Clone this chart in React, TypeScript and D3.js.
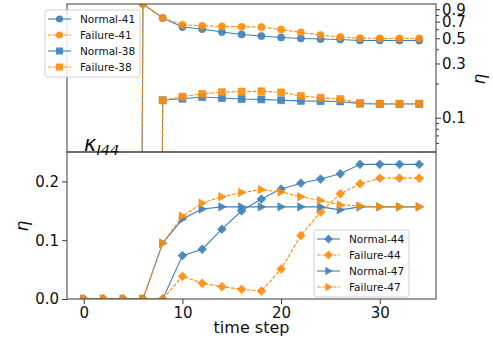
import { useEffect, useRef } from "react";
import * as d3 from "d3";

// time steps shared by both panels
const steps = [0, 2, 4, 6, 8, 10, 12, 14, 16, 18, 20, 22, 24, 26, 28, 30, 32, 34];

// top panel (log scale)
const normal41 = [0, 0, 0, 1.0, 0.753, 0.627, 0.602, 0.567, 0.54, 0.523, 0.508, 0.498, 0.492, 0.488, 0.478, 0.478, 0.478, 0.478];
const failure41 = [0, 0, 0, 1.0, 0.753, 0.657, 0.644, 0.635, 0.631, 0.627, 0.597, 0.562, 0.533, 0.512, 0.501, 0.498, 0.498, 0.498];
const normal38 = [0, 0, 0, 0, 0.1426, 0.147, 0.152, 0.149, 0.146, 0.145, 0.1426, 0.1406, 0.14, 0.139, 0.133, 0.132, 0.132, 0.132];
const failure38 = [0, 0, 0, 0, 0.1426, 0.1535, 0.162, 0.168, 0.17, 0.171, 0.167, 0.1556, 0.15, 0.146, 0.135, 0.133, 0.133, 0.133];

// bottom panel
const normal44 = [0, 0, 0, 0, 0, 0.0738, 0.0846, 0.1187, 0.15, 0.17, 0.187, 0.197, 0.204, 0.213, 0.229, 0.229, 0.229, 0.229];
const failure44 = [0, 0, 0, 0, 0, 0.0386, 0.0267, 0.021, 0.0165, 0.0136, 0.051, 0.108, 0.148, 0.179, 0.196, 0.2055, 0.2055, 0.2055];
const normal47 = [0, 0, 0, 0, 0.095, 0.136, 0.153, 0.1567, 0.1567, 0.1567, 0.1567, 0.1567, 0.1567, 0.1516, 0.1567, 0.1567, 0.1567, 0.1567];
const failure47 = [0, 0, 0, 0, 0.095, 0.141, 0.163, 0.174, 0.181, 0.186, 0.182, 0.174, 0.1675, 0.16, 0.1584, 0.1567, 0.1567, 0.1567];

const xTicks = [0, 10, 20, 30];
const yTicksBottom = [0, 0.1, 0.2];
const yTicksTopLabeled = [0.1, 0.3, 0.5, 0.7, 0.9];
const yTicksTopMinor = [0.06, 0.07, 0.08, 0.09, 0.2, 0.4, 0.6, 0.8];

const BLUE = "#3f7fb8";
const ORANGE = "#ff8c0a";
const FONT = "DejaVu Sans, sans-serif";

type Marker = "circle" | "square" | "diamond" | "tri";

function markerPath(kind: Marker): string {
  const p = d3.path();
  if (kind === "circle") {
    p.arc(0, 0, 3.6, 0, 2 * Math.PI);
  } else if (kind === "square") {
    p.rect(-3.5, -3.5, 7, 7);
  } else if (kind === "diamond") {
    p.moveTo(0, -4.4); p.lineTo(4.4, 0); p.lineTo(0, 4.4); p.lineTo(-4.4, 0); p.closePath();
  } else {
    p.moveTo(4.4, 0); p.lineTo(-3.2, -4.2); p.lineTo(-3.2, 4.2); p.closePath();
  }
  return p.toString();
}

function App() {
  const ref = useRef<SVGSVGElement>(null);

  useEffect(() => {
    const W = 493, H = 343;
    const left = 67, right = 436;
    const topY0 = 4, midY = 152, botY = 299;

    const svg = d3.select(ref.current);
    svg.selectAll("*").remove();
    svg.append("rect").attr("width", W).attr("height", H).attr("fill", "white");

    const x = d3.scaleLinear().domain([-1.7, 35.7]).range([left, right]);
    const yTop = d3.scaleLog().domain([0.05, 1.0]).range([midY, topY0]);
    const yBot = d3.scaleLinear().domain([0, 0.25]).range([botY, midY]);
    // zeros on a log axis fall far below the panel (like matplotlib's clipping)
    const yTopSafe = (v: number) => (v > 0 ? yTop(v) : yTop(1e-30));

    const defs = svg.append("defs");
    defs.append("clipPath").attr("id", "clipTop")
      .append("rect").attr("x", left).attr("y", topY0).attr("width", right - left).attr("height", midY - topY0);
    defs.append("clipPath").attr("id", "clipBot")
      .append("rect").attr("x", left).attr("y", midY).attr("width", right - left).attr("height", botY - midY);

    const drawSeries = (
      g: d3.Selection<SVGGElement, unknown, null, undefined>,
      values: number[],
      yFn: (v: number) => number,
      color: string,
      dashed: boolean,
      marker: Marker
    ) => {
      const ln = d3.line<number>().x((_, i) => x(steps[i])).y((v) => yFn(v));
      g.append("path")
        .attr("d", ln(values))
        .attr("fill", "none")
        .attr("stroke", color)
        .attr("stroke-width", 1.1)
        .attr("stroke-dasharray", dashed ? "3.7,1.6" : null);
      g.selectAll(null)
        .data(values)
        .enter()
        .append("path")
        .attr("d", markerPath(marker))
        .attr("transform", (v, i) => `translate(${x(steps[i])},${yFn(v)})`)
        .attr("fill", color)
        .attr("fill-opacity", 0.9)
        .attr("stroke", color)
        .attr("stroke-opacity", 0.6)
        .attr("stroke-width", 1);
    };

    // top panel
    const gTop = svg.append("g").attr("clip-path", "url(#clipTop)");
    drawSeries(gTop, normal41, yTopSafe, BLUE, false, "circle");
    drawSeries(gTop, failure41, yTopSafe, ORANGE, true, "circle");
    drawSeries(gTop, normal38, yTopSafe, BLUE, false, "square");
    drawSeries(gTop, failure38, yTopSafe, ORANGE, true, "square");

    // bottom panel
    const gBot = svg.append("g").attr("clip-path", "url(#clipBot)");
    drawSeries(gBot, normal44, yBot, BLUE, false, "diamond");
    drawSeries(gBot, failure44, yBot, ORANGE, true, "diamond");
    drawSeries(gBot, normal47, yBot, BLUE, false, "tri");
    drawSeries(gBot, failure47, yBot, ORANGE, true, "tri");

    // spines
    const spine = "#3a3a3a";
    svg.append("rect").attr("x", left).attr("y", topY0).attr("width", right - left).attr("height", botY - topY0)
      .attr("fill", "none").attr("stroke", spine).attr("stroke-width", 1);
    svg.append("line").attr("x1", left).attr("x2", right).attr("y1", midY).attr("y2", midY)
      .attr("stroke", spine).attr("stroke-width", 1.4);

    const styleAxis = (g: d3.Selection<SVGGElement, unknown, null, undefined>, size: number) => {
      g.select(".domain").remove();
      g.selectAll("line").attr("stroke", spine);
      g.selectAll("text").attr("fill", "#111").style("font-family", FONT).style("font-size", `${size}px`);
    };

    // bottom x axis
    const gx = svg.append("g").attr("transform", `translate(0,${botY})`)
      .call(d3.axisBottom(x).tickValues(xTicks).tickSize(5).tickPadding(3).tickFormat(d3.format("d")));
    styleAxis(gx, 15);

    // bottom y axis
    const gy = svg.append("g").attr("transform", `translate(${left},0)`)
      .call(d3.axisLeft(yBot).tickValues(yTicksBottom).tickSize(5).tickPadding(3).tickFormat(d3.format(".1f")));
    styleAxis(gy, 15);

    // top right log axis
    const gr = svg.append("g").attr("transform", `translate(${right},0)`)
      .call(d3.axisRight(yTop).tickValues(yTicksTopLabeled).tickSize(4).tickPadding(2).tickFormat(d3.format(".1f")));
    styleAxis(gr, 15);
    gr.selectAll<SVGLineElement, number>("line").filter((d) => d === 0.1).attr("x2", 5);
    const grm = svg.append("g").attr("transform", `translate(${right},0)`)
      .call(d3.axisRight(yTop).tickValues(yTicksTopMinor).tickSize(3).tickFormat(() => ""));
    styleAxis(grm, 15);

    // axis labels
    svg.append("text").attr("x", (left + right) / 2).attr("y", 333).attr("text-anchor", "middle")
      .style("font-family", FONT).style("font-size", "16px").attr("fill", "#111").text("time step");
    svg.append("text").attr("transform", `translate(28,226) rotate(-90)`).attr("text-anchor", "middle")
      .style("font-family", FONT).style("font-style", "italic").style("font-size", "17px").attr("fill", "#111").text("η");
    svg.append("text").attr("transform", `translate(485,79) rotate(-90)`).attr("text-anchor", "middle")
      .style("font-family", FONT).style("font-style", "italic").style("font-size", "17px").attr("fill", "#111").text("η");

    // panel title
    const title = svg.append("text").attr("x", 84).attr("y", 151)
      .style("font-family", FONT).style("font-style", "italic").attr("fill", "#111");
    title.append("tspan").style("font-size", "21px").text("κ");
    title.append("tspan").attr("dy", 4).style("font-size", "14.5px").text("I44");

    // legends
    const legend = (
      lx: number,
      ly: number,
      items: { label: string; color: string; dashed: boolean; marker: Marker }[]
    ) => {
      const g = svg.append("g").attr("transform", `translate(${lx},${ly})`);
      g.append("rect").attr("width", 95).attr("height", 67).attr("rx", 2.5)
        .attr("fill", "white").attr("fill-opacity", 0.85).attr("stroke", "#d0d0d0").attr("stroke-width", 1);
      items.forEach((it, i) => {
        const cy = 9 + i * 16;
        g.append("line").attr("x1", 3).attr("x2", 26).attr("y1", cy).attr("y2", cy)
          .attr("stroke", it.color).attr("stroke-width", 1.1).attr("stroke-dasharray", it.dashed ? "3.7,1.6" : null);
        g.append("path").attr("d", markerPath(it.marker)).attr("transform", `translate(14.5,${cy})`)
          .attr("fill", it.color).attr("fill-opacity", 0.9);
        g.append("text").attr("x", 35).attr("y", cy + 4).style("font-family", FONT).style("font-size", "10.5px")
          .attr("fill", "#111").text(it.label);
      });
    };
    legend(45, 10, [
      { label: "Normal-41", color: BLUE, dashed: false, marker: "circle" },
      { label: "Failure-41", color: ORANGE, dashed: true, marker: "circle" },
      { label: "Normal-38", color: BLUE, dashed: false, marker: "square" },
      { label: "Failure-38", color: ORANGE, dashed: true, marker: "square" },
    ]);
    legend(314, 230, [
      { label: "Normal-44", color: BLUE, dashed: false, marker: "diamond" },
      { label: "Failure-44", color: ORANGE, dashed: true, marker: "diamond" },
      { label: "Normal-47", color: BLUE, dashed: false, marker: "tri" },
      { label: "Failure-47", color: ORANGE, dashed: true, marker: "tri" },
    ]);
  }, []);

  return (
    <svg
      ref={ref}
      width={493}
      height={343}
      style={{ position: "absolute", left: 0, top: 0, display: "block" }}
    />
  );
}

export default App;
